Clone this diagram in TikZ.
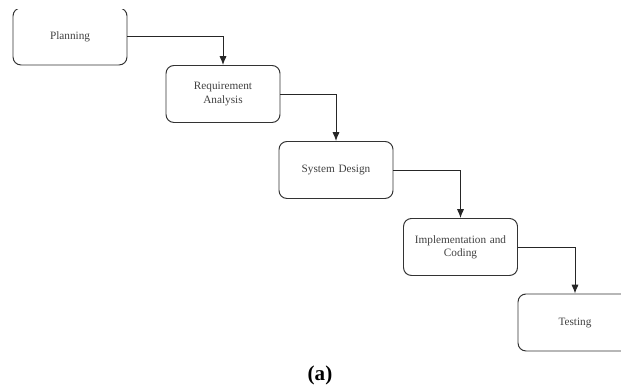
\documentclass[tikz,border=0pt]{standalone}
\usepackage{fontspec}
\setmainfont{Liberation Serif}
\usetikzlibrary{arrows.meta}
\tikzset{
  phase/.style={draw=black!80, line width=0.7pt, rounded corners=0.2cm, minimum width=2.85cm, minimum height=1.425cm, align=center, text width=2.5cm, font=\fontsize{8}{9.5}\selectfont, text=black!75},
  flow/.style={draw=black!85, line width=0.7pt, -{Latex[length=2.2mm,width=1.8mm]}}
}
\begin{document}
\begin{tikzpicture}
% Page frame, the top band and right edge cut the boxes off
\useasboundingbox (0,0) rectangle (15.525,9.675);
\clip (0,0) rectangle (15.525,9.425);

% Phases of the waterfall
\node[phase] (plan) at (1.75, 8.7625) {Planning};
\node[phase] (req) at (5.575, 7.325) {Requirement\\Analysis};
\node[phase] (design) at (8.4, 5.425) {System Design};
\node[phase] (impl) at (11.5125, 3.5) {Implementation and\\Coding};
\node[phase] (test) at (14.375, 1.6125) {Testing};

% Flow from one phase to the next
\draw[flow] (plan.east) -| (req.north);
\draw[flow] (req.east) -| (design.north);
\draw[flow] (design.east) -| (impl.north);
\draw[flow] (impl.east) -| (test.north);

\node[font=\fontsize{15}{18}\selectfont\bfseries] (caption) at (8.0, 0.3) {(a)};
\end{tikzpicture}
\end{document}
